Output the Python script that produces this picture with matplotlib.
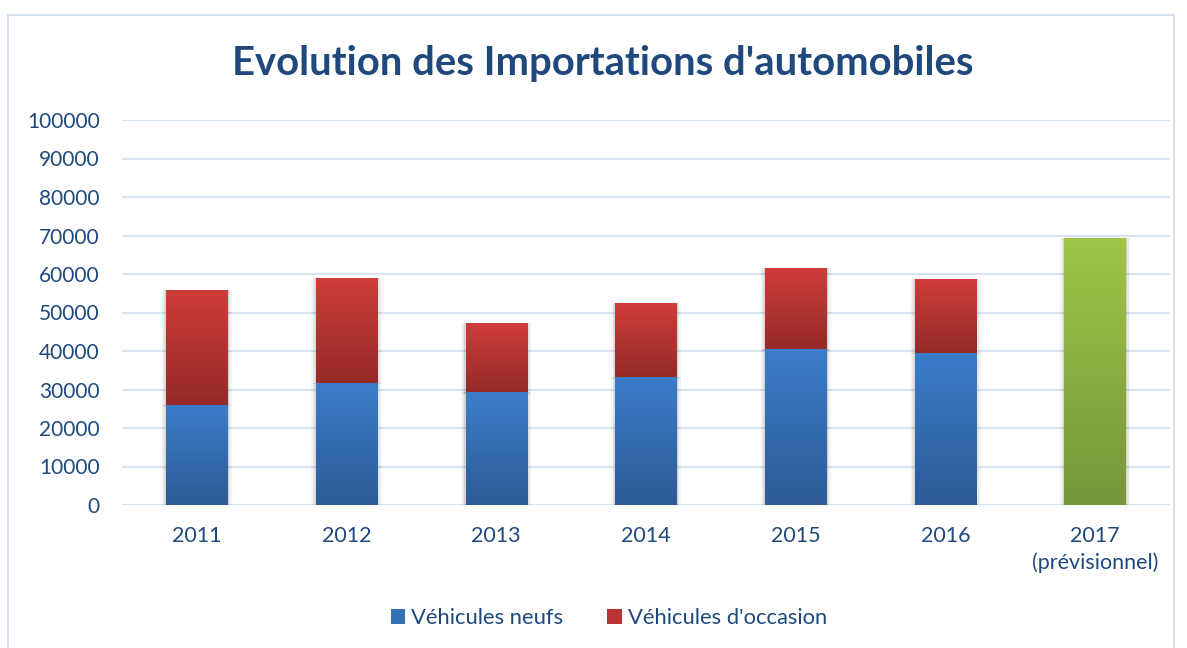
import numpy as np
import matplotlib
matplotlib.use('Agg')
import matplotlib.pyplot as plt
from matplotlib.colors import LinearSegmentedColormap
from matplotlib.patches import Rectangle, Patch

years = ['2011', '2012', '2013', '2014', '2015', '2016', '2017\n(prévisionnel)']
neufs = [26000, 31700, 29350, 33250, 40500, 39500, 0]
occasion = [29800, 27300, 17900, 19200, 21050, 19200, 0]
prevision = [0, 0, 0, 0, 0, 0, 69350]

txt = '#1f497d'
plt.rcParams['font.family'] = ['Lato', 'DejaVu Sans']

fig = plt.figure(figsize=(11.87, 6.48), dpi=100)
ax = fig.add_axes([122/1187, 1 - 505/648, (1170-122)/1187, 385/648])

# chart frame
fig.patches.append(Rectangle((8/1187, -0.05), (1174-8)/1187, 1.05 - 15/648,
                             transform=fig.transFigure, fill=False,
                             edgecolor='#d5e0ef', lw=1.5, zorder=0))

x = np.arange(len(years))
w = 0.41

def grad_bars(bars, top, bottom):
    cmap = LinearSegmentedColormap.from_list('g', [bottom, top])
    g = np.linspace(0, 1, 256).reshape(-1, 1)
    for b in bars:
        h = b.get_height()
        if h <= 0:
            continue
        x0, y0 = b.get_x(), b.get_y()
        # soft shadow
        for k, a in [(0.03, 0.04), (0.018, 0.06), (0.008, 0.08)]:
            ax.add_patch(Rectangle((x0 - k, y0 - 400), b.get_width() + 2*k, h + 400,
                                   color='#000000', alpha=a, lw=0, zorder=2))
        im = ax.imshow(g, extent=[x0, x0 + b.get_width(), y0, y0 + h], origin='lower',
                       aspect='auto', cmap=cmap, zorder=3)
        im.set_clip_path(b)

b1 = ax.bar(x, neufs, w, color='none', lw=0, zorder=3)
b2 = ax.bar(x, occasion, w, bottom=neufs, color='none', lw=0, zorder=3)
b3 = ax.bar(x, prevision, w, color='none', lw=0, zorder=3)
grad_bars(b1, '#3b7dca', '#2d5b96')
grad_bars(b2, '#cf3d3a', '#952a28')
grad_bars(b3, '#9dc648', '#75963a')

ax.set_xlim(-0.5, len(years) - 0.5)
ax.set_ylim(0, 100000)
ax.set_yticks(np.arange(0, 100001, 10000))
ax.yaxis.grid(True, color='#d9e4f3', lw=1.6)
ax.set_axisbelow(True)
for s in ax.spines.values():
    s.set_visible(False)
ax.tick_params(length=0, labelcolor=txt)
ax.tick_params(axis='y', pad=16, labelsize=15)
ax.tick_params(axis='x', pad=15, labelsize=15.5)
ax.set_xticks(x)
ax.set_xticklabels(years, linespacing=1.4)

fig.text(603/1187, 1 - 63/648, "Evolution des Importations d'automobiles",
         ha='center', va='center', fontsize=28.8, fontweight='bold', color=txt)

handles = [Patch(facecolor='#3570b5'), Patch(facecolor='#b83533')]
fig.legend(handles, ['Véhicules neufs', "Véhicules d'occasion"], loc='center',
           bbox_to_anchor=(609/1187, 1 - 618/648), ncol=2, frameon=False,
           fontsize=15.8, labelcolor=txt, handlelength=0.65, handleheight=0.65,
           handletextpad=0.3, columnspacing=2.0)

fig.savefig('out.png', dpi=100)
